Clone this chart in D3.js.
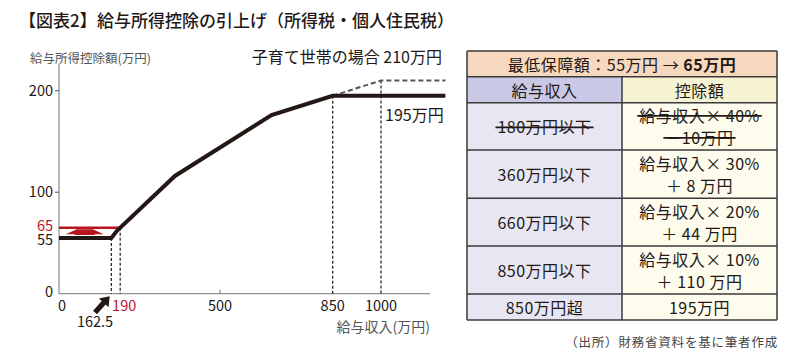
<!DOCTYPE html>
<html><head><meta charset="utf-8">
<script src="https://cdn.jsdelivr.net/npm/d3@7"></script>
<style>
html,body{margin:0;padding:0;background:#fff;}
svg text{font-family:"Noto Sans CJK JP","Noto Sans",sans-serif;}
</style></head>
<body><svg id="c" width="800" height="358"></svg>
<script>
// ---- data ----
const incomeBreaks = [0, 162.5, 180, 360, 660, 850, 1200];
const deductionCurve = [55, 55, 62, 116, 176, 195, 195];
const newMinX = [0, 190];
const newMinY = [65, 65];
const childX = [850, 1000, 1200];
const childY = [195, 210, 210];
const dropX = [162.5, 190, 850, 1000];
const dropY = [55, 65, 195, 210];
const yTickVals = [0, 55, 65, 100, 200];
const yTickRed = [false, false, true, false, false];
const xTickVals = [0, 190, 500, 850, 1000];
const xTickRed = [false, true, false, false, false];
const tableIncome = ["180万円以下", "360万円以下", "660万円以下", "850万円以下", "850万円超"];
const tableDeduction = [["給与収入× 40%", "－10万円"], ["給与収入× 30%", "＋ 8 万円"], ["給与収入× 20%", "＋ 44 万円"], ["給与収入× 10%", "＋ 110 万円"], ["195万円"]];
const tableStruck = [true, false, false, false, false];

const svg = d3.select("#c");
const x = d3.scaleLinear().domain([0, 1000]).range([59, 381]);
const y = d3.scaleLinear().domain([0, 200]).range([293.7, 90.7]);
const RED = "#b8151f";
const INK = "#231815";

// title
const t = svg.append("text").attr("x", 19).attr("y", 27).attr("font-size", 17).attr("fill", INK).attr("font-weight", 500);
t.append("tspan").text("【図表2】");
t.append("tspan").attr("x", 97).text("給与所得控除の引上げ（所得税・個人住民税）");

svg.append("text").attr("x", 30).attr("y", 63).attr("font-size", 12.5).attr("fill", "#555").text("給与所得控除額(万円)");
svg.append("text").attr("x", 442).attr("y", 63).attr("font-size", 16).attr("fill", INK).attr("text-anchor", "end").text("子育て世帯の場合 210万円");

// axes
svg.append("line").attr("x1", x(0)).attr("x2", x(0)).attr("y1", y(227)).attr("y2", y(0)).attr("stroke", "#777").attr("stroke-width", 1);
svg.append("line").attr("x1", x(0)).attr("x2", x(1152)).attr("y1", y(0)).attr("y2", y(0)).attr("stroke", "#777").attr("stroke-width", 1);
[100, 200].forEach(v => svg.append("line").attr("x1", x(0) - 4).attr("x2", x(0)).attr("y1", y(v)).attr("y2", y(v)).attr("stroke", "#555"));
svg.append("line").attr("x1", x(500)).attr("x2", x(500)).attr("y1", y(0)).attr("y2", y(0) - 4).attr("stroke", "#777");

const yOff = {0: 3, 55: 7.5, 65: 3, 100: 5, 200: 5};
svg.selectAll(".yt").data(yTickVals).enter().append("text")
  .attr("x", 53).attr("y", d => y(d) + yOff[d]).attr("text-anchor", "end").attr("font-size", 14.5)
  .attr("fill", (d, i) => yTickRed[i] ? RED : INK)
  .text(d => d);
svg.selectAll(".xt").data(xTickVals).enter().append("text")
  .attr("x", d => d === 0 ? x(d) + 3 : x(d) + (d === 190 ? 4 : 0)).attr("y", 311).attr("text-anchor", "middle").attr("font-size", 14.5)
  .attr("fill", (d, i) => xTickRed[i] ? RED : INK)
  .text(d => d);
svg.append("text").attr("x", 95).attr("y", 327).attr("text-anchor", "middle").attr("font-size", 14.5).attr("fill", INK).text("162.5");
svg.append("text").attr("x", 430).attr("y", 332).attr("text-anchor", "end").attr("font-size", 14).attr("fill", "#555").text("給与収入(万円)");

// arrow near 162.5
svg.append("path").attr("d", "M0,-2.6 L13,-2.6 L13,-6.5 L22,0 L13,6.5 L13,2.6 L0,2.6 Z")
  .attr("transform", "translate(95,312.5) rotate(-48)").attr("fill", INK);

// drop lines
dropX.forEach((dx, i) => svg.append("line").attr("x1", x(dx)).attr("x2", x(dx)).attr("y1", y(dropY[i])).attr("y2", y(0))
  .attr("stroke", INK).attr("stroke-width", 1.2).attr("stroke-dasharray", "3,2"));

// red min line + arrow
const line = d3.line().x(d => x(d[0])).y(d => y(d[1]));
svg.append("path").attr("d", line(newMinX.map((v, i) => [v, newMinY[i]]))).attr("fill", "none").attr("stroke", RED).attr("stroke-width", 2.5);
const ax = x(80), yb = y(55) - 2.8, ym = y(58.5), yt = y(63.5);
svg.append("path").attr("d", `M${ax-10},${yb} L${ax-10},${ym} L${ax-19},${ym} L${ax-8},${yt} L${ax+8},${yt} L${ax+19},${ym} L${ax+10},${ym} L${ax+10},${yb} Z`).attr("fill", RED);

// child-household dashed
svg.append("path").attr("d", line(childX.map((v, i) => [v, childY[i]]))).attr("fill", "none").attr("stroke", "#555").attr("stroke-width", 2).attr("stroke-dasharray", "5,3");

// main curve
svg.append("path").attr("d", line(incomeBreaks.map((v, i) => [v, deductionCurve[i]]))).attr("fill", "none").attr("stroke", INK).attr("stroke-width", 4).attr("stroke-linejoin", "miter");

svg.append("text").attr("x", 385).attr("y", 121).attr("font-size", 16).attr("fill", INK).text("195万円");

// ---- table ----
const tx0 = 467, tx1 = 622, tx2 = 777;
const rows = [51, 76.7, 102.7, 150, 198.3, 246, 294, 320];
const g = svg.append("g");
g.append("rect").attr("x", tx0).attr("y", rows[0]).attr("width", tx2 - tx0).attr("height", rows[1] - rows[0]).attr("fill", "#f6d8bf");
g.append("rect").attr("x", tx0).attr("y", rows[1]).attr("width", tx1 - tx0).attr("height", rows[2] - rows[1]).attr("fill", "#c9c9e6");
g.append("rect").attr("x", tx1).attr("y", rows[1]).attr("width", tx2 - tx1).attr("height", rows[2] - rows[1]).attr("fill", "#f6f3d3");
tableIncome.forEach((s, i) => {
  const r0 = rows[i + 2], r1 = rows[i + 3];
  g.append("rect").attr("x", tx0).attr("y", r0).attr("width", tx1 - tx0).attr("height", r1 - r0).attr("fill", "#e7e7f3");
  g.append("rect").attr("x", tx1).attr("y", r0).attr("width", tx2 - tx1).attr("height", r1 - r0).attr("fill", "#fefcec");
});
const bc = "#3a3a3a";
rows.forEach(r => g.append("line").attr("x1", tx0).attr("x2", tx2).attr("y1", r).attr("y2", r).attr("stroke", bc).attr("stroke-width", 1.5));
[tx0, tx2].forEach(c => g.append("line").attr("x1", c).attr("x2", c).attr("y1", rows[0]).attr("y2", rows[7]).attr("stroke", bc).attr("stroke-width", 1.5));
g.append("line").attr("x1", tx1).attr("x2", tx1).attr("y1", rows[1]).attr("y2", rows[7]).attr("stroke", bc).attr("stroke-width", 1.5);

const FS = 16, LS = 0.5;
const h = g.append("text").attr("x", (tx0 + tx2) / 2).attr("y", 70.5).attr("text-anchor", "middle").attr("font-size", FS).attr("letter-spacing", LS).attr("fill", INK);
h.append("tspan").text("最低保障額：55万円 → ");
h.append("tspan").attr("font-weight", "bold").text("65万円");
g.append("text").attr("x", (tx0 + tx1) / 2).attr("y", 97).attr("text-anchor", "middle").attr("font-size", FS).attr("letter-spacing", LS).attr("fill", INK).text("給与収入");
g.append("text").attr("x", (tx1 + tx2) / 2).attr("y", 97).attr("text-anchor", "middle").attr("font-size", FS).attr("letter-spacing", LS).attr("fill", INK).text("控除額");

tableIncome.forEach((s, i) => {
  const r0 = rows[i + 2], r1 = rows[i + 3], cy = (r0 + r1) / 2;
  const lt = g.append("text").attr("x", (tx0 + tx1) / 2).attr("y", cy + 7).attr("text-anchor", "middle").attr("font-size", FS).attr("letter-spacing", LS).attr("fill", INK).text(s);
  const lines = tableDeduction[i];
  const tn = [];
  lines.forEach((l, k) => {
    const yy = lines.length === 1 ? cy + 7 : cy + 6.5 + (k === 0 ? -11 : 11);
    tn.push(g.append("text").attr("x", (tx1 + tx2) / 2).attr("y", yy).attr("text-anchor", "middle").attr("font-size", FS).attr("letter-spacing", LS).attr("fill", INK).text(l));
  });
  if (tableStruck[i]) {
    [lt].concat(tn).forEach(n => {
      const b = n.node().getBBox();
      g.append("line").attr("x1", b.x - 2).attr("x2", b.x + b.width + 2).attr("y1", b.y + b.height / 2 + 1).attr("y2", b.y + b.height / 2 + 1).attr("stroke", INK).attr("stroke-width", 1.6);
    });
  }
});

svg.append("text").attr("x", 778).attr("y", 347).attr("text-anchor", "end").attr("font-size", 12.5).attr("letter-spacing", 0.8).attr("fill", "#444").text("（出所）財務省資料を基に筆者作成");
</script></body></html>
